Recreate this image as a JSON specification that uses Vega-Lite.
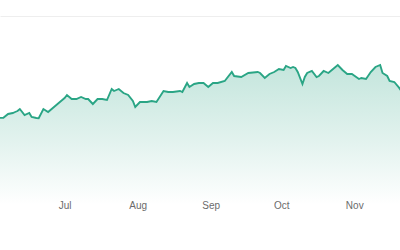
{
  "$schema": "https://vega.github.io/schema/vega-lite/v6.json",
  "width": 400,
  "height": 212,
  "padding": 0,
  "autosize": "none",
  "background": "white",
  "config": {"view": {"stroke": null}, "font": "Liberation Sans"},
  "data": {"values": [
    {"date": "2024-06-03", "value": 94},
    {"date": "2024-06-05", "value": 94.3},
    {"date": "2024-06-07", "value": 98},
    {"date": "2024-06-09", "value": 99},
    {"date": "2024-06-10", "value": 100},
    {"date": "2024-06-11", "value": 101},
    {"date": "2024-06-12", "value": 103},
    {"date": "2024-06-14", "value": 97},
    {"date": "2024-06-16", "value": 99},
    {"date": "2024-06-17", "value": 95},
    {"date": "2024-06-19", "value": 94},
    {"date": "2024-06-20", "value": 93.7},
    {"date": "2024-06-22", "value": 103},
    {"date": "2024-06-24", "value": 100},
    {"date": "2024-06-26", "value": 104},
    {"date": "2024-06-28", "value": 108},
    {"date": "2024-06-30", "value": 112},
    {"date": "2024-07-01", "value": 114},
    {"date": "2024-07-02", "value": 117},
    {"date": "2024-07-04", "value": 113},
    {"date": "2024-07-06", "value": 113},
    {"date": "2024-07-08", "value": 115},
    {"date": "2024-07-10", "value": 113},
    {"date": "2024-07-11", "value": 113},
    {"date": "2024-07-13", "value": 108},
    {"date": "2024-07-15", "value": 113},
    {"date": "2024-07-17", "value": 113},
    {"date": "2024-07-19", "value": 112},
    {"date": "2024-07-21", "value": 123},
    {"date": "2024-07-22", "value": 121},
    {"date": "2024-07-24", "value": 123},
    {"date": "2024-07-26", "value": 119},
    {"date": "2024-07-28", "value": 117},
    {"date": "2024-07-30", "value": 111},
    {"date": "2024-07-31", "value": 105},
    {"date": "2024-08-02", "value": 110},
    {"date": "2024-08-03", "value": 110},
    {"date": "2024-08-05", "value": 110},
    {"date": "2024-08-07", "value": 111},
    {"date": "2024-08-09", "value": 110},
    {"date": "2024-08-12", "value": 121},
    {"date": "2024-08-14", "value": 120},
    {"date": "2024-08-16", "value": 120},
    {"date": "2024-08-19", "value": 121},
    {"date": "2024-08-20", "value": 120},
    {"date": "2024-08-22", "value": 129},
    {"date": "2024-08-23", "value": 125},
    {"date": "2024-08-25", "value": 128},
    {"date": "2024-08-27", "value": 129},
    {"date": "2024-08-29", "value": 129},
    {"date": "2024-08-31", "value": 125},
    {"date": "2024-09-02", "value": 129},
    {"date": "2024-09-04", "value": 129},
    {"date": "2024-09-07", "value": 131},
    {"date": "2024-09-10", "value": 140},
    {"date": "2024-09-11", "value": 136},
    {"date": "2024-09-14", "value": 135},
    {"date": "2024-09-17", "value": 139},
    {"date": "2024-09-21", "value": 140},
    {"date": "2024-09-22", "value": 139},
    {"date": "2024-09-24", "value": 134},
    {"date": "2024-09-26", "value": 138},
    {"date": "2024-09-28", "value": 140},
    {"date": "2024-09-30", "value": 143},
    {"date": "2024-10-02", "value": 142},
    {"date": "2024-10-03", "value": 146},
    {"date": "2024-10-05", "value": 144},
    {"date": "2024-10-06", "value": 145},
    {"date": "2024-10-07", "value": 144},
    {"date": "2024-10-08", "value": 140},
    {"date": "2024-10-10", "value": 128},
    {"date": "2024-10-11", "value": 135},
    {"date": "2024-10-12", "value": 139},
    {"date": "2024-10-14", "value": 141},
    {"date": "2024-10-16", "value": 135},
    {"date": "2024-10-17", "value": 136},
    {"date": "2024-10-19", "value": 141},
    {"date": "2024-10-21", "value": 139},
    {"date": "2024-10-23", "value": 143},
    {"date": "2024-10-25", "value": 147},
    {"date": "2024-10-27", "value": 142},
    {"date": "2024-10-29", "value": 138},
    {"date": "2024-10-31", "value": 138},
    {"date": "2024-11-03", "value": 133},
    {"date": "2024-11-04", "value": 134},
    {"date": "2024-11-06", "value": 133},
    {"date": "2024-11-08", "value": 140},
    {"date": "2024-11-10", "value": 145},
    {"date": "2024-11-12", "value": 147},
    {"date": "2024-11-13", "value": 139},
    {"date": "2024-11-15", "value": 136},
    {"date": "2024-11-16", "value": 131},
    {"date": "2024-11-18", "value": 130},
    {"date": "2024-11-20", "value": 124.4},
    {"date": "2024-11-21", "value": 121}
  ]},
  "encoding": {
    "x": {
      "field": "date",
      "type": "temporal",
      "scale": {
        "type": "utc",
        "domain": [
          {"year": 2024, "month": 6, "date": 3, "hours": 13, "minutes": 41, "utc": true},
          {"year": 2024, "month": 11, "date": 20, "hours": 10, "minutes": 5, "utc": true}
        ],
        "nice": false
      },
      "axis": {
        "title": null,
        "tickCount": "month",
        "labelExpr": "utcFormat(datum.value, '%b')",
        "ticks": false,
        "tickSize": 0,
        "grid": false,
        "domain": true,
        "domainColor": "#eeeeee",
        "domainWidth": 1,
        "labelPadding": -7,
        "labelBaseline": "middle",
        "labelFlush": false,
        "labelFontSize": 10,
        "labelColor": "#6b6b6b",
        "zindex": 1
      }
    },
    "y": {
      "field": "value",
      "type": "quantitative",
      "scale": {"domain": [0, 212], "nice": false, "zero": true},
      "axis": {
        "title": null,
        "values": [196],
        "grid": true,
        "gridColor": "#eeeeee",
        "gridWidth": 1,
        "labels": false,
        "ticks": false,
        "domain": false
      }
    }
  },
  "layer": [
    {
      "mark": {
        "type": "area",
        "clip": true,
        "color": {
          "gradient": "linear",
          "x1": 0, "y1": 0, "x2": 0, "y2": 1,
          "stops": [
            {"offset": 0, "color": "rgba(43,163,131,0.28)"},
            {"offset": 0.5, "color": "rgba(43,163,131,0.14)"},
            {"offset": 0.95, "color": "rgba(43,163,131,0)"},
            {"offset": 1, "color": "rgba(43,163,131,0)"}
          ]
        }
      }
    },
    {
      "mark": {"type": "line", "clip": true, "color": "#2aa585", "strokeWidth": 1.9}
    }
  ]
}
